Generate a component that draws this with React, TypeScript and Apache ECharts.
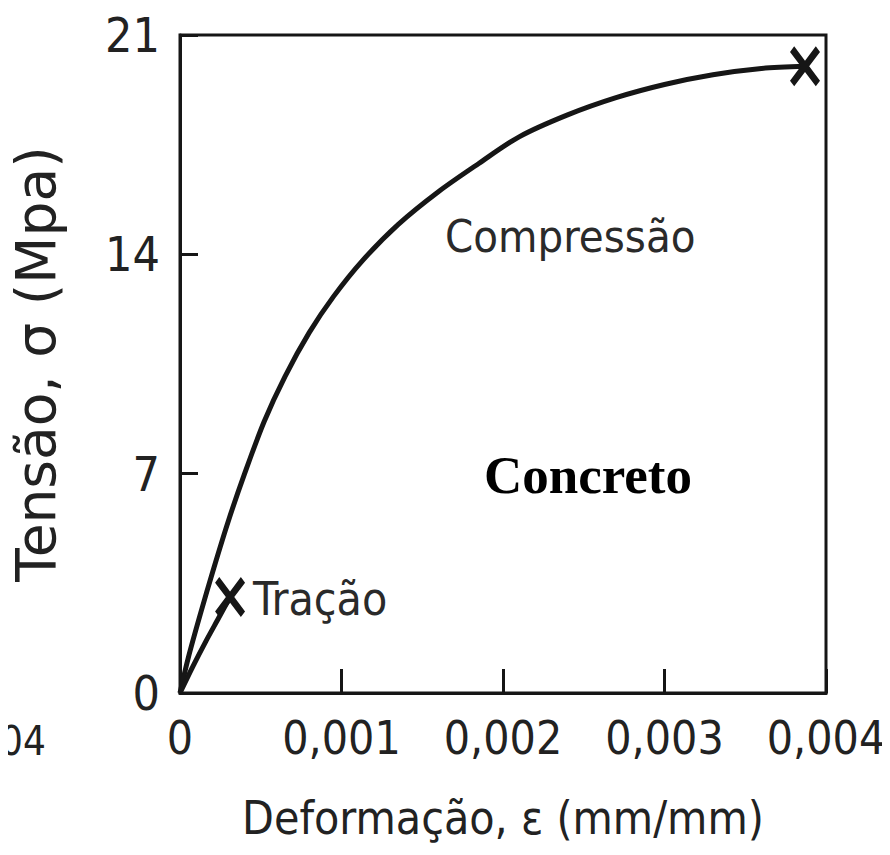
import React, { useEffect, useRef } from "react";
import * as echarts from "echarts";

// Compression curve (strain, stress in MPa)
const compStrain = [0, 0.00005, 0.000125, 0.00021, 0.0003, 0.0004, 0.00052, 0.00065, 0.0008, 0.00095, 0.00113, 0.00135, 0.0016, 0.00185, 0.0021, 0.0024, 0.0027, 0.003, 0.0033, 0.0036, 0.00387];
const compStress = [0, 1.1, 2.5, 4.0, 5.5, 7.0, 8.65, 10.1, 11.5, 12.65, 13.8, 14.95, 16.0, 16.9, 17.75, 18.45, 19.0, 19.42, 19.73, 19.93, 20.0];

// Tension curve
const tracStrain = [0, 0.00008, 0.00016, 0.00024, 0.00031];
const tracStress = [0, 0.85, 1.65, 2.4, 3.06];

// Axis ticks
const xTickValues = [0, 0.001, 0.002, 0.003, 0.004];
const xTickLabels = ["0", "0,001", "0,002", "0,003", "0,004"];
const yTickValues = [0, 7, 14, 21];
const yTickLabels = ["0", "7", "14", "21"];

const xAxisTitle = "Deformação, ε (mm/mm)";
const yAxisTitle = "Tensão, σ (Mpa)";
const compLabel = "Compressão";
const tracLabel = "Tração";
const materialLabel = "Concreto";
const edgeFragment = "04";

const INK = "#161616";
const NARROW = '"Liberation Sans Narrow", "DejaVu Sans Condensed", "Open Sans", sans-serif';
const CROSS = "path://M0 14 L14 0 L50 36 L86 0 L100 14 L64 50 L100 86 L86 100 L50 64 L14 100 L0 86 L36 50 Z";

export default function App() {
  const ref = useRef<HTMLDivElement>(null);
  useEffect(() => {
    if (!ref.current) return;
    const chart = echarts.init(ref.current, null, { renderer: "svg" });
    const comp = compStrain.map((x, i) => [x, compStress[i]]);
    const trac = tracStrain.map((x, i) => [x, tracStress[i]]);
    chart.setOption({
      animation: false,
      backgroundColor: "#ffffff",
      grid: {
        left: 180,
        right: 64,
        top: 35,
        bottom: 162,
        show: true,
        borderColor: INK,
        borderWidth: 3,
        containLabel: false,
      },
      xAxis: {
        type: "value",
        min: 0,
        max: 0.004,
        interval: 0.001,
        name: xAxisTitle,
        nameLocation: "middle",
        nameGap: 102,
        nameTextStyle: { fontFamily: NARROW, fontSize: 46, color: "#222" },
        axisLine: { show: true, lineStyle: { color: INK, width: 3 } },
        axisTick: { show: true, inside: true, length: 24, lineStyle: { color: INK, width: 3 } },
        splitLine: { show: false },
        axisLabel: {
          margin: 22,
          fontFamily: NARROW,
          fontSize: 46,
          color: "#222",
          formatter: (v: number) => {
            const i = xTickValues.findIndex((t) => Math.abs(t - v) < 1e-9);
            return i >= 0 ? xTickLabels[i] : "";
          },
        },
      },
      yAxis: {
        type: "value",
        min: 0,
        max: 21,
        interval: 7,
        name: yAxisTitle,
        nameLocation: "middle",
        nameGap: 117,
        nameRotate: 90,
        nameTextStyle: { fontFamily: '"DejaVu Sans", sans-serif', fontSize: 55, color: "#222" },
        axisLine: { show: true, lineStyle: { color: INK, width: 3 } },
        axisTick: { show: true, inside: true, length: 18, lineStyle: { color: INK, width: 3 } },
        splitLine: { show: false },
        axisLabel: {
          margin: 20,
          fontFamily: NARROW,
          fontSize: 48,
          color: "#222",
          formatter: (v: number) => {
            const i = yTickValues.findIndex((t) => Math.abs(t - v) < 1e-9);
            return i >= 0 ? yTickLabels[i] : "";
          },
        },
      },
      series: [
        {
          name: compLabel,
          type: "line",
          data: comp,
          smooth: 0.3,
          showSymbol: false,
          lineStyle: { color: INK, width: 5 },
          markPoint: {
            symbol: CROSS,
            symbolSize: [30, 40],
            itemStyle: { color: INK },
            label: { show: false },
            data: [{ coord: comp[comp.length - 1] }],
          },
        },
        {
          name: tracLabel,
          type: "line",
          data: trac,
          smooth: 0.3,
          showSymbol: false,
          lineStyle: { color: INK, width: 5 },
          markPoint: {
            symbol: CROSS,
            symbolSize: [30, 40],
            itemStyle: { color: INK },
            label: { show: false },
            data: [{ coord: trac[trac.length - 1] }],
          },
        },
      ],
      graphic: [
        {
          type: "text",
          x: 445,
          y: 236,
          style: { text: compLabel, fontFamily: NARROW, fontSize: 45, fill: "#2a2a2a", textAlign: "left", textVerticalAlign: "middle" },
        },
        {
          type: "text",
          x: 253,
          y: 599,
          style: { text: tracLabel, fontFamily: NARROW, fontSize: 46, fill: "#2a2a2a", textAlign: "left", textVerticalAlign: "middle" },
        },
        {
          type: "text",
          x: 484,
          y: 475,
          style: { text: materialLabel, fontFamily: '"Liberation Serif", "Times New Roman", serif', fontWeight: "bold", fontSize: 53, fill: "#000", textAlign: "left", textVerticalAlign: "middle" },
        },
        {
          type: "text",
          x: 0,
          y: 741,
          style: { text: edgeFragment, fontFamily: NARROW, fontSize: 40, fill: "#222", textAlign: "left", textVerticalAlign: "middle" },
        },
      ],
    });
    return () => chart.dispose();
  }, []);
  return <div ref={ref} style={{ width: 890, height: 855, margin: -8 }} />;
}
